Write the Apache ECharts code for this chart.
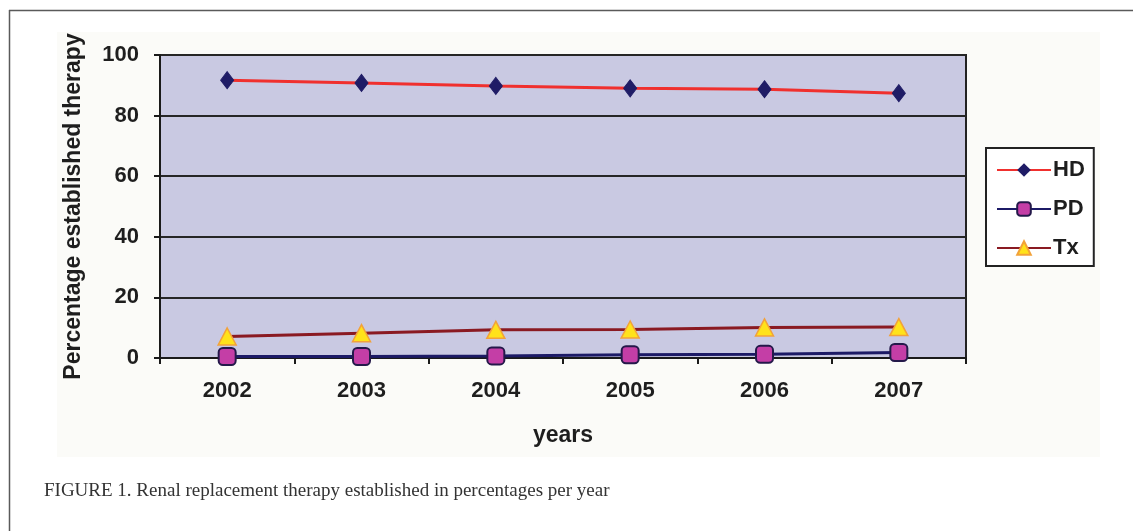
<!DOCTYPE html>
<html>
<head>
<meta charset="utf-8">
<script src="https://cdn.jsdelivr.net/npm/echarts@6/dist/echarts.min.js"></script>
<style>
  html, body { margin: 0; padding: 0; background: #ffffff; }
  #chart { width: 1133px; height: 531px; }
</style>
</head>
<body>
<div id="chart"></div>
<script>
// Renal replacement therapy, share of patients per modality (%)
const years = ['2002', '2003', '2004', '2005', '2006', '2007'];
const hd = [91.7, 90.8, 89.8, 89.0, 88.7, 87.4];
const pd = [0.5, 0.5, 0.7, 1.1, 1.2, 1.8];
const tx = [7.1, 8.2, 9.3, 9.4, 10.1, 10.2];
const yTicks = { min: 0, max: 100, interval: 20 };

const chart = echarts.init(document.getElementById('chart'), null, { renderer: 'canvas' });

const axisFont = { fontFamily: 'Liberation Sans, Arial, sans-serif', fontWeight: 'bold', color: '#1e1e1e' };

chart.setOption({
  backgroundColor: '#ffffff',
  animation: false,
  graphic: [
    // outer figure frame (top and left rules)
    { type: 'line', shape: { x1: 9, y1: 10.5, x2: 1133, y2: 10.5 }, style: { stroke: '#5a5a5a', lineWidth: 1.5 }, z: 0 },
    { type: 'line', shape: { x1: 9.5, y1: 10, x2: 9.5, y2: 531 }, style: { stroke: '#5a5a5a', lineWidth: 1.5 }, z: 0 },
    // chart area panel
    { type: 'rect', shape: { x: 57, y: 32, width: 1043, height: 425 }, style: { fill: '#fbfbf8' }, z: -1 },
    // caption
    {
      type: 'text', left: 44, top: 482, z: 5,
      style: {
        text: 'FIGURE 1. Renal replacement therapy established in percentages per year',
        font: '19px "Liberation Serif", "DejaVu Serif", serif',
        fill: '#333333'
      }
    }
  ],
  grid: {
    left: 160, top: 55, right: 167, bottom: 173,
    show: true,
    backgroundColor: '#c9c9e2',
    borderColor: '#222222',
    borderWidth: 2
  },
  legend: {
    orient: 'vertical',
    left: 986, top: 148,
    width: 108,
    padding: [11, 9, 7, 10],
    borderColor: '#222222',
    borderWidth: 2,
    backgroundColor: '#ffffff',
    itemWidth: 54,
    itemHeight: 17,
    itemGap: 17,
    textStyle: Object.assign({ fontSize: 22, padding: [0, 0, 0, -3] }, axisFont),
    data: ['HD', 'PD', 'Tx']
  },
  xAxis: {
    type: 'category',
    data: years,
    boundaryGap: true,
    name: 'years',
    nameLocation: 'middle',
    nameGap: 66,
    nameTextStyle: Object.assign({ fontSize: 23 }, axisFont),
    axisLine: { lineStyle: { color: '#1a1a1a', width: 2 } },
    axisTick: { show: true, inside: false, length: 6, lineStyle: { color: '#1a1a1a', width: 2 } },
    axisLabel: Object.assign({ fontSize: 22, margin: 22 }, axisFont),
    splitLine: { show: false }
  },
  yAxis: {
    type: 'value',
    min: yTicks.min, max: yTicks.max, interval: yTicks.interval,
    name: 'Percentage established therapy',
    nameLocation: 'middle',
    nameGap: 75,
    nameRotate: 90,
    nameTextStyle: Object.assign({ fontSize: 23 }, axisFont),
    axisLine: { show: true, lineStyle: { color: '#1a1a1a', width: 2 } },
    axisTick: { show: true, inside: false, length: 6, lineStyle: { color: '#1a1a1a', width: 2 } },
    axisLabel: Object.assign({ fontSize: 22, margin: 21 }, axisFont),
    splitLine: { show: true, lineStyle: { color: '#262626', width: 2 } }
  },
  series: [
    {
      name: 'HD', type: 'line', data: hd,
      symbol: 'diamond', symbolSize: [13, 17],
      itemStyle: { color: '#1f1c66', borderColor: '#1f1c66' },
      lineStyle: { color: '#f0302e', width: 3 },
      z: 3
    },
    {
      name: 'PD', type: 'line', data: pd,
      symbol: 'roundRect', symbolSize: 17,
      itemStyle: { color: '#c43ea6', borderColor: '#24194a', borderWidth: 2 },
      lineStyle: { color: '#1c1a66', width: 3 },
      z: 3
    },
    {
      name: 'Tx', type: 'line', data: tx,
      symbol: 'triangle', symbolSize: [18, 17],
      itemStyle: { color: '#ffe21a', borderColor: '#f2a23a', borderWidth: 1.5 },
      lineStyle: { color: '#8a1a22', width: 3 },
      z: 4
    }
  ]
});
</script>
</body>
</html>
